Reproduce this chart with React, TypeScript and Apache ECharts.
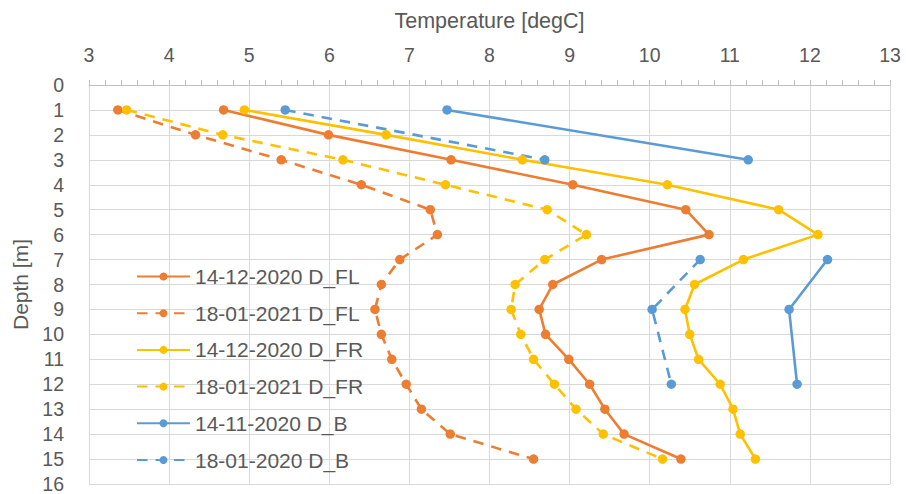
import React, { useEffect, useRef } from "react";
import * as echarts from "echarts";

const depths = [1, 2, 3, 4, 5, 6, 7, 8, 9, 10, 11, 12, 13, 14, 15];
// null marks the break in the B profiles (no readings between 3 m and 7 m)
const depthsB = [1, 3, null, 7, 9, 12];
const yTicks = [0, 16];
const xRange = [3, 13];

const flDec = [4.68, 5.99, 7.52, 9.04, 10.45, 10.74, 9.4, 8.79, 8.62, 8.7, 8.99, 9.25, 9.44, 9.68, 10.39];
const flJan = [3.36, 4.33, 5.4, 6.4, 7.26, 7.35, 6.88, 6.65, 6.57, 6.65, 6.78, 6.96, 7.15, 7.51, 8.55];
const frDec = [4.94, 6.71, 8.41, 10.22, 11.61, 12.1, 11.17, 10.56, 10.44, 10.5, 10.61, 10.88, 11.04, 11.13, 11.32];
const frJan = [3.47, 4.67, 6.17, 7.45, 8.72, 9.21, 8.69, 8.32, 8.27, 8.39, 8.55, 8.81, 9.08, 9.42, 10.16];
const bNov = [7.47, 11.23, null, 12.22, 11.74, 11.84];
const bJan = [5.45, 8.69, null, 10.63, 10.03, 10.27];

const seriesNames = [
  "14-12-2020 D_FL",
  "18-01-2021 D_FL",
  "14-12-2020 D_FR",
  "18-01-2021 D_FR",
  "14-11-2020 D_B",
  "18-01-2020 D_B",
];

const ORANGE = "#ED7D31";
const YELLOW = "#FFC000";
const BLUE = "#5B9BD5";
const FONT = "'Liberation Sans', Arial, sans-serif";
const TEXT = "#595959";

function mk(name: string, xs: (number | null)[], ys: (number | null)[], color: string, dashed: boolean) {
  return {
    name,
    type: "line",
    data: xs.map((v, i) => (v == null || ys[i] == null ? "-" : [v, ys[i]])),
    connectNulls: false,
    symbol: "circle",
    symbolSize: 9.5,
    showSymbol: true,
    lineStyle: { color, width: 2.6, type: dashed ? [10.5, 8] : "solid" },
    itemStyle: { color },
    emphasis: { disabled: true },
  };
}

export default function App() {
  const ref = useRef<HTMLDivElement>(null);
  useEffect(() => {
    if (!ref.current) return;
    const chart = echarts.init(ref.current, undefined, { renderer: "svg" });
    chart.setOption({
      animation: false,
      backgroundColor: "#ffffff",
      textStyle: { fontFamily: FONT },
      grid: { left: 89, right: 16, top: 85, bottom: 9, containLabel: false },
      legend: {
        orient: "vertical",
        left: 136,
        top: 266,
        padding: 0,
        itemWidth: 53,
        itemHeight: 10,
        itemGap: 15.7,
        data: seriesNames,
        textStyle: { fontFamily: FONT, fontSize: 21, color: TEXT, lineHeight: 21 },
      },
      xAxis: {
        type: "value",
        position: "top",
        min: xRange[0],
        max: xRange[1],
        interval: 1,
        name: "Temperature [degC]",
        nameLocation: "middle",
        nameGap: 53,
        nameTextStyle: { fontFamily: FONT, fontSize: 21.5, color: TEXT },
        axisLine: { show: true, lineStyle: { color: "#bfbfbf", width: 1 } },
        axisTick: { show: true, inside: false, length: 5, lineStyle: { color: "#bfbfbf" } },
        minorTick: { show: true, splitNumber: 5, length: 5, lineStyle: { color: "#bfbfbf" } },
        axisLabel: { fontFamily: FONT, fontSize: 19.5, color: TEXT, margin: 20 },
        splitLine: { show: true, lineStyle: { color: "#d9d9d9", width: 1 } },
      },
      yAxis: {
        type: "value",
        inverse: true,
        min: yTicks[0],
        max: yTicks[1],
        interval: 1,
        name: "Depth [m]",
        nameLocation: "middle",
        nameGap: 57,
        nameTextStyle: { fontFamily: FONT, fontSize: 21, color: TEXT },
        axisLine: { show: false },
        axisTick: { show: false },
        axisLabel: { fontFamily: FONT, fontSize: 19.5, color: TEXT, margin: 25 },
        splitLine: { show: true, lineStyle: { color: "#d9d9d9", width: 1 } },
      },
      series: [
        mk(seriesNames[0], flDec, depths, ORANGE, false),
        mk(seriesNames[1], flJan, depths, ORANGE, true),
        mk(seriesNames[2], frDec, depths, YELLOW, false),
        mk(seriesNames[3], frJan, depths, YELLOW, true),
        mk(seriesNames[4], bNov, depthsB, BLUE, false),
        mk(seriesNames[5], bJan, depthsB, BLUE, true),
      ],
    });
    return () => chart.dispose();
  }, []);
  return (
    <div
      ref={ref}
      style={{ position: "fixed", left: 0, top: 0, width: 906, height: 494 }}
    />
  );
}
